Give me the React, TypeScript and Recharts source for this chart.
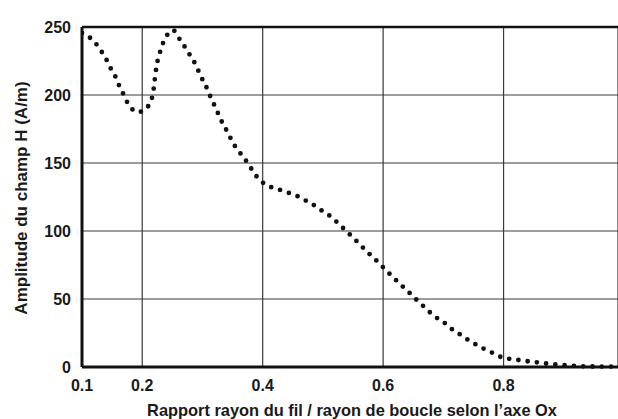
import { CartesianGrid, Label, Line, LineChart, ReferenceLine, XAxis, YAxis } from "recharts"

// rapport rayon du fil / rayon de boucle
const ratio = [
  0.1, 0.113, 0.123, 0.132, 0.14, 0.147, 0.155, 0.161, 0.168, 0.175, 0.185, 0.193, 0.202, 0.213,
  0.218, 0.22, 0.222, 0.224, 0.228, 0.232, 0.238, 0.247, 0.252, 0.256, 0.264, 0.273, 0.281, 0.289,
  0.295, 0.302, 0.309, 0.315, 0.322, 0.328, 0.335, 0.343, 0.35, 0.359, 0.369, 0.378, 0.386, 0.397,
  0.411, 0.426, 0.441, 0.455, 0.469, 0.483, 0.496, 0.509, 0.521, 0.532, 0.543, 0.555, 0.566, 0.577,
  0.589, 0.6, 0.611, 0.622, 0.633, 0.645, 0.656, 0.668, 0.68, 0.693, 0.705, 0.717, 0.73, 0.744,
  0.758, 0.772, 0.786, 0.801, 0.817, 0.832, 0.848, 0.864, 0.879, 0.896, 0.911, 0.927, 0.943, 0.959,
  0.974, 0.99,
]

// amplitude du champ H (A/m)
const amplitude = [
  245.5, 242.2, 237.8, 232.2, 226.5, 220.1, 214, 207.6, 201.3, 194.8, 188.9, 187.5, 188.4, 194.6,
  201.3, 208.3, 215.5, 221.9, 228.8, 235.2, 241.3, 247, 247.6, 245.5, 239.6, 233.9, 228, 222.1,
  216, 209.6, 203.5, 196.8, 190.6, 184.3, 177.9, 171.7, 165.3, 159.4, 153.7, 148.1, 142.4, 136.8,
  132.8, 130.6, 128.4, 126.2, 123, 119.6, 115.6, 112, 107.5, 102.8, 98.2, 93, 88, 83.2,
  78.2, 73.3, 68.4, 63.7, 59, 54, 49.2, 44.3, 39.3, 34.9, 31.5, 26.8, 23.4, 19,
  15.7, 12.3, 9.6, 6.4, 5.7, 4.6, 3.9, 2.9, 2.2, 1.5, 1, 0.6, 0.4, 0.3,
  0.3, 0.3,
]

const xTicks = [0.1, 0.2, 0.4, 0.6, 0.8]
const yTicks = [0, 50, 100, 150, 200, 250]

const data = ratio.map((r, i) => ({ r, h: amplitude[i] }))

const font = "'Liberation Sans', Arial, sans-serif"
const tickStyle = { fill: "#1a1a1a", fontSize: 16, fontWeight: 700, fontFamily: font }

export default function App() {
  return (
    <div style={{ position: "absolute", left: 0, top: 0, background: "#fff" }}>
      <LineChart width={618} height={419} data={data} margin={{ top: 27, right: 0, bottom: 0, left: 0 }}>
        <CartesianGrid stroke="#3a3a3a" strokeWidth={1.2} />
        <XAxis
          dataKey="r"
          type="number"
          domain={[0.1, 0.99]}
          ticks={xTicks}
          allowDataOverflow
          height={52}
          tickLine={false}
          tickSize={6}
          tickMargin={7}
          tick={tickStyle}
          axisLine={{ stroke: "#111", strokeWidth: 3 }}
        >
          <Label
            content={() => (
              <text x={352} y={416} textAnchor="middle" fill="#1a1a1a" fontSize={16.4} fontWeight={700} fontFamily={font}>
                Rapport rayon du fil / rayon de boucle selon l’axe Ox
              </text>
            )}
          />
        </XAxis>
        <YAxis
          type="number"
          domain={[0, 250]}
          ticks={yTicks}
          width={82}
          tickLine={false}
          tickSize={6}
          tickMargin={5}
          tick={tickStyle}
          axisLine={{ stroke: "#111", strokeWidth: 3 }}
        >
          <Label
            content={() => (
              <text
                x={21}
                y={198}
                transform="rotate(-90 21 198)"
                textAnchor="middle"
                dominantBaseline="central"
                fill="#1a1a1a"
                fontSize={17}
                fontWeight={700}
                fontFamily={font}
              >
                Amplitude du champ H (A/m)
              </text>
            )}
          />
        </YAxis>
        <ReferenceLine y={250} stroke="#111" strokeWidth={2.5} />
        <Line
          type="monotone"
          dataKey="h"
          stroke="#111"
          strokeWidth={4.8}
          strokeDasharray="0 9.3"
          strokeLinecap="round"
          dot={false}
          isAnimationActive={false}
        />
      </LineChart>
    </div>
  )
}
